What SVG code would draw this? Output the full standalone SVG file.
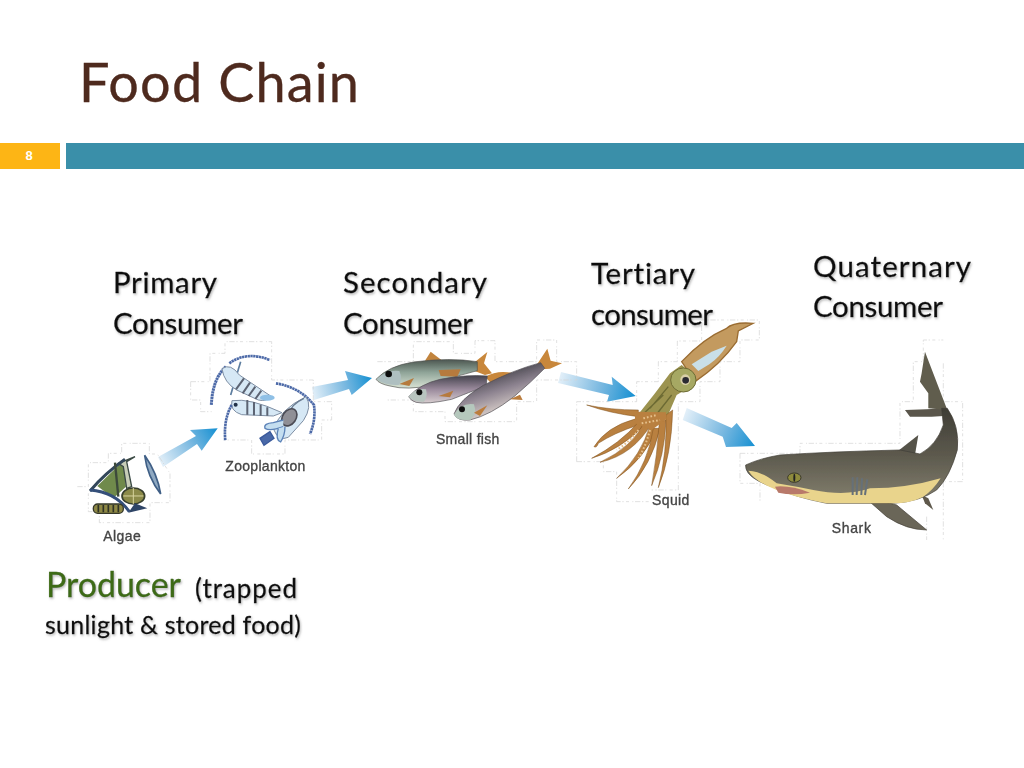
<svg xmlns="http://www.w3.org/2000/svg" width="1024" height="768" viewBox="0 0 1024 768">
<style>
text{font-variant-ligatures:none}
.lab{font-family:"Lato","Open Sans",sans-serif;font-size:29.500px;fill:#0c0c0c;stroke:#0c0c0c;stroke-width:.3px;filter:url(#sh)}
.cap{font-family:"Liberation Sans",Arial,sans-serif;font-size:42px;fill:#444;stroke:#444;stroke-width:1px;filter:url(#soft)}
.fr{fill:none;stroke:#d4d4d4;stroke-width:2.200;stroke-dasharray:16 5 4 7 9 10 3 5}
.soft{filter:url(#soft)}
</style>
<defs>
<filter id="sh" x="-5%" y="-20%" width="110%" height="150%"><feDropShadow dx="1" dy="1.500" stdDeviation="1" flood-color="#888" flood-opacity=".6"/></filter>
<filter id="soft" x="-5%" y="-5%" width="110%" height="110%"><feGaussianBlur stdDeviation="1.300"/></filter>
<linearGradient id="a1" gradientUnits="userSpaceOnUse" x1="160" y1="462" x2="217" y2="428"><stop offset="0" stop-color="#e4f0f9"/><stop offset=".55" stop-color="#79b8e0"/><stop offset="1" stop-color="#1590d2"/></linearGradient>
<linearGradient id="a2" href="#a1" gradientUnits="userSpaceOnUse" x1="312" y1="393" x2="372" y2="378"/>
<linearGradient id="a3" href="#a1" gradientUnits="userSpaceOnUse" x1="559" y1="377" x2="635" y2="396"/>
<linearGradient id="a4" href="#a1" gradientUnits="userSpaceOnUse" x1="684" y1="414" x2="755" y2="446"/>
<linearGradient id="sk" x1="0" y1="0" x2="0" y2="1"><stop offset="0" stop-color="#3f3d35"/><stop offset=".5" stop-color="#5d5a4e"/><stop offset="1" stop-color="#85816f"/></linearGradient>
<linearGradient id="fi" x1="0" y1="0" x2="0" y2="1"><stop offset="0" stop-color="#4c5650"/><stop offset=".45" stop-color="#8fa498"/><stop offset="1" stop-color="#d8e2d4"/></linearGradient>
<linearGradient id="fp" x1="0" y1="0" x2="0" y2="1"><stop offset="0" stop-color="#45434d"/><stop offset=".5" stop-color="#9a8a9c"/><stop offset="1" stop-color="#d8ced0"/></linearGradient>
<linearGradient id="ft" x1=".7" y1="0" x2="1" y2=".6"><stop offset="0" stop-color="#3f3e45"/><stop offset=".5" stop-color="#8d8390"/><stop offset="1" stop-color="#d6ccc8"/></linearGradient>
</defs>
<rect width="1024" height="768" fill="#fff"/>

<g id="header">
<text x="79" y="102" font-family="Lato,'Open Sans',sans-serif" font-size="54" fill="#4e2a1e" stroke="#4e2a1e" stroke-width=".3" textLength="280" lengthAdjust="spacing">Food Chain</text>
<rect x="0" y="143" width="60" height="26" fill="#fdb515"/>
<rect x="66" y="143" width="958" height="26" fill="#3a8fa9"/>
<text x="29" y="160" font-family="'Liberation Sans',sans-serif" font-size="13" font-weight="700" fill="#fff" text-anchor="middle">8</text>
</g>

<g id="connectors">
<path fill="url(#a1)" d="M158 457L196 436L190 430L217.700 428.300L201.700 450.700L197 444L163 467Z"/>
<path fill="url(#a2)" d="M312 387L348 380L345 371L372 378L351.700 395L349 389L314 400Z"/>
<path fill="url(#a3)" d="M561 372L612.700 385L611.700 376.700L635.700 396L607 401.700L609 395L558 383Z"/>
<path fill="url(#a4)" d="M686.700 408L731.700 428L736.700 423L755 446L726 447L722.700 436.700L682.700 420Z"/>
</g>

<g id="algae">
<g transform="translate(70 330) scale(.3333)">
<path class="fr" d="M22 470H55V398H115V370H155V340H238V372H262L300 430V518H240V578H88V545H55V490"/>
<g class="soft">
<path d="M82 468L160 392L168 470L130 505Z" fill="#6f8a4c"/>
<path d="M145 400L195 380L170 395L185 470L170 475L160 410Z" fill="#c7cdb7" stroke="#3b4a44" stroke-width="4"/>
<path d="M60 483Q105 430 165 388" fill="none" stroke="#33465a" stroke-width="9"/>
<path d="M60 480Q135 485 178 545" fill="none" stroke="#34507a" stroke-width="9"/>
<path d="M135 398L145 500" fill="none" stroke="#3d4a3a" stroke-width="7"/>
<ellipse cx="190" cy="498" rx="34" ry="24" fill="#8b8a48" stroke="#39402f" stroke-width="5"/>
<path d="M160 498H220M190 474V522" stroke="#d8d4a0" stroke-width="3"/>
<path d="M195 520L232 535L175 548Z" fill="#2f4466"/>
<rect x="70" y="522" width="90" height="28" rx="13" fill="#8d8744" stroke="#35392a" stroke-width="4"/>
<path d="M85 525V547M100 525V547M115 525V547M130 525V547M145 525V547" stroke="#2f3325" stroke-width="5"/>
<path d="M224 376Q262 430 272 492Q232 440 224 376Z" fill="#8fa9c2" stroke="#3f5f86" stroke-width="5"/>
</g>
<text class="cap" x="100" y="633" textLength="112">Algae</text>
</g>
</g>

<g id="zooplankton">
<g transform="translate(70 330) scale(.3333)">
<path class="fr" d="M362 155H420V70H465V35H605V150H730V215H785V270H755V330H645V372H545V330H460M362 155V210H392V245H425"/>
<g class="soft" fill="none">
<path d="M478 100Q530 62 600 90" stroke="#4d6aa8" stroke-width="8" stroke-dasharray="7 1.500"/>
<path d="M468 110Q428 145 424 225" stroke="#4d6aa8" stroke-width="9" stroke-dasharray="7 1.500"/>
<path d="M512 95L482 195" stroke="#5d7d9f" stroke-width="5"/>
<path d="M456 116Q482 98 508 135L602 198Q592 216 565 210L500 180Q462 158 456 116Z" fill="#d6e8f5" stroke="#7d8ea3" stroke-width="3"/>
<path d="M522 145L498 178M540 158L518 190M556 170L536 198M574 182L556 207" stroke="#5b6372" stroke-width="6"/>
<ellipse cx="592" cy="203" rx="22" ry="9" fill="#8fc0e6"/>
<path d="M486 212Q540 203 636 248L610 258L515 254Q478 242 486 212Z" fill="#d6e8f5" stroke="#7d8ea3" stroke-width="3"/>
<path d="M532 210V254M552 216V256M572 224V257M592 232V257" stroke="#5b6372" stroke-width="6"/>
<circle cx="497" cy="224" r="6" fill="#22324a"/>
<path d="M485 225Q460 270 466 332" stroke="#4d6aa8" stroke-width="8" stroke-dasharray="7 1.500"/>
<path d="M618 160Q690 172 732 225Q738 270 720 312" stroke="#4d6aa8" stroke-width="8" stroke-dasharray="7 1.500"/>
<path d="M708 200Q728 230 700 272L655 322Q625 335 612 300Q625 240 708 200Z" fill="#d6e8f5" stroke="#7d8ea3" stroke-width="3"/>
<path d="M702 205Q660 225 660 250" stroke="#6a7b90" stroke-width="4"/>
<ellipse cx="658" cy="262" rx="20" ry="28" transform="rotate(35 658 262)" fill="#8f8f96" stroke="#4c4c55" stroke-width="5"/>
<path d="M640 290Q600 305 585 295Q580 280 610 278L640 270" fill="#c4def0" stroke="#5b82b8" stroke-width="4"/>
<path d="M625 295Q615 330 632 336Q645 315 645 290" fill="#c4def0" stroke="#5b82b8" stroke-width="4"/>
<path d="M600 305L570 325L582 346L612 325Z" fill="#4a69a8" stroke="#3a5a9c" stroke-width="4"/>
</g>
<text class="cap" x="466" y="424" textLength="240">Zooplankton</text>
</g>
</g>

<g id="small-fish">
<g transform="translate(370 320) scale(.3333)">
<path class="fr" d="M22 125H130V65H250V100H315V62H375V125H500V60H560V125H620V180H500V245H440V305H225V275H130V240H50"/>
<g class="soft">
<path d="M165 122L182 95L225 128Z" fill="#c2843e"/>
<path d="M312 128L352 96L342 130L366 160L345 165L312 152Z" fill="#c8873a"/>
<path d="M18 178Q55 138 130 126Q240 112 322 125L322 152Q250 168 190 195Q110 212 60 198Q28 192 18 178Z" fill="url(#fi)" stroke="#50524e" stroke-width="2"/>
<path d="M206 150L272 148L262 170L212 168Z" fill="#b67a3d"/>
<path d="M88 192L132 174L118 198Z" fill="#b67a3d"/>
<path d="M20 178Q50 148 88 153Q98 175 88 194Q50 198 20 178Z" fill="#aebfc0"/>
<circle cx="56" cy="162" r="10" fill="#111"/>
<path d="M345 170Q385 148 432 160L400 178L362 188Z" fill="#c8873a"/>
<path d="M116 230Q150 192 210 178Q290 163 352 168L348 198Q295 218 245 238Q170 254 138 247Q122 242 116 230Z" fill="url(#fp)" stroke="#4e4c52" stroke-width="2"/>
<path d="M116 230Q135 203 168 208Q174 230 162 245Q132 248 116 230Z" fill="#b8c4bf"/>
<circle cx="148" cy="217" r="9" fill="#111"/>
<path d="M206 228L250 212L240 232Z" fill="#b67a3d"/>
<path d="M500 135L532 86L542 122L576 130L540 146L515 148Z" fill="#c8873a"/>
<path d="M252 282Q268 238 340 196Q430 150 512 128L524 145Q485 185 432 230Q362 285 300 300Q262 304 252 282Z" fill="url(#ft)" stroke="#4e4c52" stroke-width="2"/>
<path d="M252 284Q272 248 312 253Q322 280 302 299Q262 304 252 284Z" fill="#b5c8bd"/>
<path d="M312 278L352 256L330 288Z" fill="#bb7d3c"/>
<path d="M420 238L450 224L458 240Z" fill="#bb7d3c"/>
<circle cx="276" cy="268" r="9" fill="#111"/>
</g>
<text class="cap" x="198" y="373" textLength="190">Small fish</text>
</g>
</g>

<g id="squid">
<g transform="translate(570 315) scale(.3333)">
<path class="fr" d="M20 440V260H200V200H265V140H322V78H395V15H568V75H510V140H450V200H390V260H325V525H245M20 440H100V470H140V560H240"/>
<g class="soft">
<path d="M335 140Q400 70 470 40Q490 20 550 25L505 48L500 80Q450 150 375 200Z" fill="#c39a5e" stroke="#9a6c32" stroke-width="4"/>
<path d="M365 148L425 110L470 92Q450 125 418 148L385 168Z" fill="#c9dfe8"/>
<path d="M300 175L335 150L378 185L350 222L320 240L292 305L205 298L255 235Z" fill="#9c9350"/>
<path d="M280 240L222 295M305 240L258 300M295 215L240 280" stroke="#6c6a33" stroke-width="4" fill="none"/>
<ellipse cx="340" cy="195" rx="38" ry="36" fill="#a6a863" stroke="#6c6a33" stroke-width="3"/>
<ellipse cx="346" cy="194" rx="15" ry="16" fill="#d8cfa8"/>
<circle cx="347" cy="196" r="10" fill="#2b2a30"/>
<g fill="#b9803f" stroke="#80501f" stroke-width="1.500">
<path d="M205 285Q120 285 50 270Q120 295 205 305Z"/>
<path d="M195 312Q110 335 72 395Q80 400 85 385Q130 355 205 330Z"/>
<path d="M205 322Q150 385 65 430Q150 405 225 330Z"/>
<path d="M225 318Q190 395 90 442Q190 420 245 325Z"/>
<path d="M240 330Q215 420 140 490Q225 430 258 345Z"/>
<path d="M250 340Q235 440 175 522Q245 450 270 340Z"/>
<path d="M268 320Q262 420 245 512Q285 420 288 315Z"/>
<path d="M288 300Q292 410 265 518Q305 420 308 285Z"/>
<path d="M195 290L288 292L290 312L245 345L195 325Z" stroke="none"/>
</g>
<path d="M240 345Q225 400 205 430M205 345Q180 380 140 405M220 310L260 300M215 325L270 315" fill="none" stroke="#e6c08c" stroke-width="6" stroke-dasharray="5 6"/>
</g>
<text class="cap" x="246" y="571" textLength="112">Squid</text>
</g>
</g>

<g id="shark">
<g transform="translate(680 340) scale(.3333)">
<path class="fr" d="M180 340H360V310H660V185H700V65H730V0H790M180 340V430H240V485M790 70V185H848V425H790V600M740 530V600"/>
<g class="soft">
<path d="M552 470L650 495L740 570Q680 570 620 530Z" fill="#6b6659" stroke="#3f3c34" stroke-width="2"/>
<path d="M725 465L745 475L760 510L735 490Z" fill="#5e594c"/>
<path d="M655 332L715 285L705 345Z" fill="#55534a"/>
<path d="M795 205L740 208L675 210L690 230L755 230L790 228Z" fill="#5a574c"/>
<path d="M735 35L725 100L720 125L745 160L745 205L802 210Z" fill="#605d4e"/>
<path d="M197 375Q240 355 300 345Q450 335 660 330L720 342Q770 315 790 255L785 205L802 205Q840 260 832 330Q810 410 770 450Q720 485 640 490L440 490Q340 470 290 445Q225 425 205 400Q195 385 197 375Z" fill="url(#sk)" stroke="#3f3d35" stroke-width="2"/>
<path d="M205 392Q250 395 290 430Q350 440 400 450Q500 470 570 445Q680 445 782 415Q760 450 730 470Q690 490 640 490L440 490Q340 470 290 450Q225 425 205 392Z" fill="#e9d48c"/>
<path d="M285 440Q330 435 390 458Q340 468 295 458Z" fill="#b8796a"/>
<ellipse cx="343" cy="413" rx="20" ry="14" fill="#8e8b3c" stroke="#3a382a" stroke-width="3"/>
<ellipse cx="343" cy="413" rx="3" ry="12" fill="#222"/>
<path d="M518 412L518 465M532 412L530 465M546 415L544 465M562 418L555 465" stroke="#667078" stroke-width="6" fill="none"/>
</g>
<text class="cap" x="455" y="578" textLength="118">Shark</text>
</g>
</g>

<g id="labels">
<text class="lab" x="113" y="293" textLength="104">Primary</text>
<text class="lab" x="113" y="334" textLength="130">Consumer</text>
<text class="lab" x="343" y="293" textLength="144">Secondary</text>
<text class="lab" x="343" y="334" textLength="130">Consumer</text>
<text class="lab" x="591" y="284" textLength="104">Tertiary</text>
<text class="lab" x="591" y="325" textLength="122">consumer</text>
<text class="lab" x="813" y="277" textLength="158">Quaternary</text>
<text class="lab" x="813" y="317" textLength="130">Consumer</text>
<text class="lab" x="46" y="597" style="font-size:34px;fill:#3e6b14;stroke:#3e6b14" textLength="135">Producer</text>
<text class="lab" x="195" y="598" style="font-size:26px" textLength="102">(trapped</text>
<text class="lab" x="45" y="634" style="font-size:25px" textLength="256">sunlight &amp; stored food)</text>
</g>
</svg>
